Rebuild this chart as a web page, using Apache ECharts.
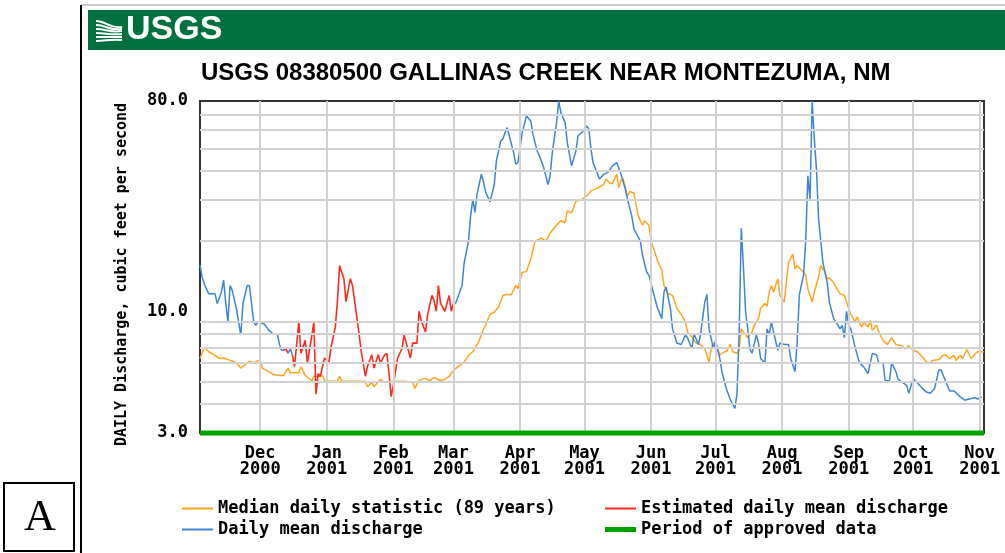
<!DOCTYPE html>
<html>
<head>
<meta charset="utf-8">
<script src="https://cdn.jsdelivr.net/npm/echarts@6/dist/echarts.min.js"></script>
<style>html,body{margin:0;padding:0;background:#fff}#c{width:1005px;height:553px}</style>
</head>
<body>
<div id="c"></div>
<script>
// ---------------- DATA ----------------
const chartTitle = 'USGS 08380500 GALLINAS CREEK NEAR MONTEZUMA, NM';
const yAxisTitle = 'DAILY Discharge, cubic feet per second';
const periodStart = '2000-11-03';
const periodEnd = '2001-11-03';
const monthTicks = ['2000-12-01','2001-01-01','2001-02-01','2001-03-01','2001-04-01','2001-05-01',
                    '2001-06-01','2001-07-01','2001-08-01','2001-09-01','2001-10-01','2001-11-01'];
const monthTickLabels = ['Dec\n2000','Jan\n2001','Feb\n2001','Mar\n2001','Apr\n2001','May\n2001',
                         'Jun\n2001','Jul\n2001','Aug\n2001','Sep\n2001','Oct\n2001','Nov\n2001'];
const yMin = 3, yMax = 80;
const yGridValues = [4,5,6,7,8,9,20,30,40,50,60,70];
const seriesNames = ['Median daily statistic (89 years)','Estimated daily mean discharge','Daily mean discharge','Period of approved data'];

// [days since periodStart, cubic feet per second]
const medianDaily = [[0,6.27],[2,7.0],[4,6.7],[7,6.47],[9,6.27],[11,6.3],[14,6.15],[15,6.1],[17,6.0],[19,5.7],[22,6.0],[23,6.1],[25,6.0],[28,6.2],[29,5.7],[32,5.5],[34,5.35],[37,5.3],[39,5.3],[41,5.7],[42,5.45],[46,5.45],[47,5.77],[49,5.3],[52,5.03],[53,5.25],[56,5.25],[57,5.3],[58,5.03],[61,5.0],[64,5.0],[65,5.25],[66,5.0],[74,5.0],[77,5.0],[78,4.74],[80,4.95],[81,4.74],[84,5.1],[85,5.0],[87,4.95],[90,5.0],[92,5.0],[95,5.0],[99,4.95],[100,4.66],[102,5.05],[105,5.15],[107,5.03],[109,5.2],[112,5.03],[114,5.1],[116,5.25],[118,5.58],[120,5.77],[123,6.06],[125,6.47],[127,6.7],[129,7.2],[130,7.5],[132,8.4],[133,8.7],[135,9.7],[137,9.9],[139,10.4],[141,11.7],[143,11.8],[145,11.8],[147,12.9],[148,12.5],[150,14.7],[152,14.8],[154,16.8],[156,20],[159,20.6],[161,20],[163,21.7],[166,23.4],[168,24.5],[170,24],[171,27],[173,26.5],[175,29.7],[178,30.3],[180,31.2],[182,32.9],[185,33.7],[188,35],[189,37],[191,35.4],[192,35.4],[194,38.8],[195,34],[196,36.5],[197,37],[199,31.2],[200,32.7],[202,32.2],[204,25.7],[206,23.4],[207,24.5],[209,23.4],[210,20],[212,17.6],[213,16.5],[215,15],[216,12.9],[218,11.9],[220,11.7],[222,10.3],[224,9.7],[226,9.0],[227,8.15],[229,7.76],[231,7.3],[233,7.2],[235,6.9],[237,6.06],[238,6.9],[239,7.3],[241,6.9],[242,6.47],[244,6.7],[245,6.7],[247,7.2],[248,6.7],[250,6.6],[251,6.8],[252,8.4],[254,7.9],[255,7.7],[257,8.15],[258,8.7],[260,9.3],[261,10.3],[263,10.8],[264,10.5],[265,12.1],[266,12.9],[267,12.1],[269,13.8],[270,11.7],[272,10.95],[273,13.3],[274,16.2],[276,17.6],[277,15.2],[278,15.7],[280,15],[282,14.3],[283,12.5],[285,10.95],[286,12.1],[288,14.1],[289,15.7],[291,14.7],[292,13.8],[293,13.9],[295,13.3],[296,12.7],[298,11.9],[300,11.7],[302,10.3],[303,9.7],[305,9.0],[306,9.45],[308,8.55],[309,9.0],[311,8.55],[312,9.14],[313,8.28],[315,8.7],[316,8.15],[318,7.5],[320,7.2],[322,7.7],[324,7.2],[327,7.1],[328,6.9],[330,7.1],[332,6.8],[334,6.7],[337,6.27],[338,6.06],[340,6.0],[341,6.15],[344,6.2],[346,6.47],[347,6.5],[349,6.27],[351,6.47],[352,6.15],[354,6.47],[355,6.27],[357,6.85],[359,6.27],[361,6.58],[362,6.7],[365,6.7]];

const dailyMeanPart1 = [[0,15.8],[1,14.0],[2,13.1],[4,11.9],[7,11.9],[8,10.8],[10,12.1],[11,13.6],[12,10.8],[13,9.0],[14,12.9],[15,12.3],[17,10.2],[19,7.9],[20,10.8],[22,12.9],[23,12.9],[25,9.0],[26,8.7],[27,9.0],[30,8.8],[32,8.3],[34,8.0],[36,8.0],[37,7.2],[38,6.8],[39,6.8]];
const dailyMeanPart2 = [[41,6.6],[42,6.9],[43,6.5]];
const dailyMeanPart3 = [[119,10.8],[122,12.9],[123,16.2],[125,20],[126,25.7],[127,30.3],[128,26.6],[129,31.9],[131,38.8],[132,35.8],[133,32.5],[135,29.5],[137,35.0],[138,44.3],[140,53.9],[141,55],[142,58.5],[143,61.5],[144,56.7],[146,48],[147,42.9],[148,43.5],[150,58.5],[152,69],[154,65.7],[155,57.5],[157,48.8],[158,46.5],[160,41.5],[162,35],[163,38.2],[164,48],[166,64.6],[167,80],[168,71.3],[170,64.6],[171,53],[173,42.1],[175,48.8],[176,56.7],[178,58.9],[180,62.5],[181,60.7],[182,50],[183,43.5],[186,37],[188,38.8],[190,39.5],[192,42.1],[194,43.5],[196,38.8],[198,33.5],[199,30.3],[201,25.7],[202,22.6],[205,20],[206,17.4],[208,14.7],[209,14.3],[211,12.1],[213,10.3],[215,9.3],[216,12.1],[217,12.7],[219,10.3],[220,8.4],[222,7.3],[224,7.2],[226,7.9],[227,7.7],[229,6.9],[230,8.0],[232,7.2],[233,7.9],[235,10.95],[236,11.8],[237,8.4],[239,6.9],[240,7.5],[242,6.27],[243,5.5],[245,4.66],[247,4.15],[249,3.83],[250,4.4],[251,8],[252,22.7],[253,15.5],[254,10],[255,8.4],[256,6.9],[257,6.6],[259,7.9],[260,7.3],[261,6.27],[263,6.0],[264,8.4],[265,7.9],[266,9.0],[267,8.15],[269,6.8],[270,7.3],[272,7.2],[274,7.2],[275,6.27],[277,5.5],[278,7.3],[279,11.7],[280,13],[281,14.3],[282,20],[283,38.2],[284,30.3],[285,80],[286,55],[287,40.8],[288,24.9],[289,20],[290,16.2],[292,13.3],[293,10.95],[295,9.3],[296,9.0],[298,8.4],[299,8.7],[300,7.7],[301,10],[302,8.7],[303,8.4],[305,7.0],[307,6.0],[309,5.77],[311,5.4],[313,6.58],[315,6.5],[316,6.0],[318,6.0],[319,5.03],[321,5.03],[322,6.0],[324,5.5],[325,5.1],[327,4.95],[329,4.81],[330,4.44],[332,5.15],[333,5.03],[336,4.7],[338,4.51],[340,4.44],[342,4.66],[344,5.6],[345,5.6],[347,5.03],[349,4.55],[351,4.55],[354,4.29],[356,4.15],[358,4.2],[361,4.25],[362,4.2],[364,4.29]];

const estimatedPart1 = [[39,6.8],[40,6.9],[41,6.6]];
const estimatedPart2 = [[43,6.5],[44,5.8],[46,9.0],[47,6.6],[49,7.5],[50,6.0],[52,7.8],[53,9.0],[54,4.4],[55,5.4],[56,5.25],[58,6.3],[60,6.0],[61,7.0],[63,8.55],[64,11.1],[65,15.7],[66,14.7],[67,13.8],[68,11.0],[70,13.8],[71,12.9],[73,9.45],[75,6.8],[77,5.25],[78,5.8],[80,6.5],[81,5.7],[83,6.5],[84,6.0],[86,6.5],[87,6.6],[88,5.4],[89,4.3],[90,4.8],[92,6.3],[94,6.9],[95,7.9],[98,6.3],[99,7.3],[101,7.3],[102,10.0],[103,9.1],[105,8.15],[106,9.7],[108,11.7],[109,11.1],[110,10.0],[111,12.9],[112,10.8],[114,10.0],[116,11.7],[117,10.0],[118,10.8],[119,10.8]];

// ---------------- BUILD ----------------
const DAY = 86400000;
const T0 = Date.parse(periodStart);
const spanDays = Math.round((Date.parse(periodEnd) - T0) / DAY);
const monthTickDays = monthTicks.map(s => Math.round((Date.parse(s) - T0) / DAY));
const joinParts = (...parts) => {
  let out = [];
  parts.forEach((p, i) => { out = out.concat(p); if (i < parts.length - 1) out.push([p[p.length - 1][0] + 0.5, null]); });
  return out;
};

const monoFont = '"DejaVu Sans Mono", "Liberation Mono", monospace';
const legendText = { fontFamily: monoFont, fontWeight: 'bold', fontSize: 17, color: '#000', lineHeight: 17 };
const legendBase = { orient: 'horizontal', padding: 0, itemWidth: 31, itemHeight: 2, icon: 'rect', selectedMode: false, textStyle: legendText };

const chart = echarts.init(document.getElementById('c'), null, { renderer: 'canvas' });
chart.setOption({
  animation: false,
  backgroundColor: '#fff',
  title: {
    text: chartTitle, left: 201, top: 61, padding: 0,
    textStyle: { fontFamily: '"Liberation Sans", Arial, sans-serif', fontWeight: 'bold', fontSize: 24, color: '#000' }
  },
  graphic: [
    { type: 'line', shape: { x1: 81, y1: 5, x2: 1005, y2: 5 }, style: { stroke: '#999', lineWidth: 1 }, silent: true },
    { type: 'line', shape: { x1: 81, y1: 5, x2: 81, y2: 553 }, style: { stroke: '#000', lineWidth: 2 }, silent: true },
    { type: 'rect', shape: { x: 88, y: 10, width: 917, height: 40 }, style: { fill: '#00703f' }, silent: true },
    { type: 'bezierCurve', shape: { x1: 96, y1: 21, cpx1: 106, cpy1: 21, cpx2: 110, cpy2: 29, x2: 122, y2: 27 }, style: { stroke: '#fff', lineWidth: 2, fill: null }, silent: true },
    { type: 'bezierCurve', shape: { x1: 96, y1: 25, cpx1: 106, cpy1: 25, cpx2: 110, cpy2: 31, x2: 122, y2: 29 }, style: { stroke: '#fff', lineWidth: 2, fill: null }, silent: true },
    { type: 'bezierCurve', shape: { x1: 96, y1: 29, cpx1: 106, cpy1: 29, cpx2: 110, cpy2: 33, x2: 122, y2: 31 }, style: { stroke: '#fff', lineWidth: 2, fill: null }, silent: true },
    { type: 'bezierCurve', shape: { x1: 96, y1: 33, cpx1: 106, cpy1: 33, cpx2: 110, cpy2: 35, x2: 122, y2: 34 }, style: { stroke: '#fff', lineWidth: 2, fill: null }, silent: true },
    { type: 'bezierCurve', shape: { x1: 96, y1: 37, cpx1: 106, cpy1: 37, cpx2: 110, cpy2: 37, x2: 122, y2: 37 }, style: { stroke: '#fff', lineWidth: 2, fill: null }, silent: true },
    { type: 'bezierCurve', shape: { x1: 96, y1: 41, cpx1: 106, cpy1: 41, cpx2: 110, cpy2: 39, x2: 122, y2: 40 }, style: { stroke: '#fff', lineWidth: 2, fill: null }, silent: true },
    { type: 'text', x: 126, y: 30, style: { text: 'USGS', fill: '#fff', font: 'bold 34px "Liberation Sans", Arial, sans-serif', verticalAlign: 'middle', align: 'left' }, silent: true },
    { type: 'rect', shape: { x: 4, y: 483, width: 70, height: 68 }, style: { fill: '#fff', stroke: '#000', lineWidth: 2 }, silent: true },
    { type: 'text', x: 40, y: 518, style: { text: 'A', fill: '#000', font: '44px "Liberation Serif", "DejaVu Serif", serif', verticalAlign: 'middle', align: 'center' }, silent: true }
  ],
  legend: [
    Object.assign({}, legendBase, { left: 182, top: 500, data: [seriesNames[0]] }),
    Object.assign({}, legendBase, { left: 182, top: 521, data: [seriesNames[2]] }),
    Object.assign({}, legendBase, { left: 605, top: 500, data: [seriesNames[1]] }),
    Object.assign({}, legendBase, { left: 605, top: 521, itemHeight: 5, data: [seriesNames[3]] })
  ],
  grid: { left: 200, right: 21, top: 101, bottom: 120, containLabel: false, show: true, borderColor: '#333', borderWidth: 2, backgroundColor: 'transparent' },
  xAxis: {
    type: 'value', min: 0, max: spanDays,
    axisLine: { show: false }, axisTick: { show: false }, splitLine: { show: false },
    axisLabel: {
      customValues: monthTickDays,
      formatter: v => { const i = monthTickDays.indexOf(Math.round(v)); return i >= 0 ? monthTickLabels[i] : ''; },
      fontFamily: monoFont, fontWeight: 'bold', fontSize: 17, lineHeight: 16, color: '#000', margin: 13, hideOverlap: false
    }
  },
  yAxis: {
    type: 'log', logBase: 10, min: yMin, max: yMax,
    name: yAxisTitle, nameLocation: 'middle', nameRotate: 90, nameGap: 70,
    nameTextStyle: { fontFamily: monoFont, fontWeight: 'bold', fontSize: 15, color: '#000', padding: [0, 15, 0, 0] },
    axisLine: { show: false }, axisTick: { show: false }, splitLine: { show: false },
    axisLabel: { formatter: v => (Math.round(v * 10) / 10).toFixed(1), fontFamily: monoFont, fontWeight: 'bold', fontSize: 17, color: '#000', margin: 12, showMinLabel: true, showMaxLabel: true }
  },
  series: [
    { // grid lines holder
      type: 'line', name: '_grid', data: [[0, yMin], [spanDays, yMin]], silent: true, z: 1,
      showSymbol: false, lineStyle: { opacity: 0 },
      markLine: {
        silent: true, symbol: ['none', 'none'], label: { show: false }, animation: false,
        lineStyle: { color: '#d2d2d2', width: 2, type: 'solid' },
        data: yGridValues.map(v => ({ yAxis: v })).concat(monthTickDays.map(d => ({ xAxis: d })))
      }
    },
    { type: 'line', name: seriesNames[0], data: medianDaily, showSymbol: false, z: 3,
      lineStyle: { color: '#ffa51f', width: 1.5 }, itemStyle: { color: '#ffa51f' } },
    { type: 'line', name: seriesNames[1], data: joinParts(estimatedPart1, estimatedPart2), showSymbol: false, z: 4, connectNulls: false,
      lineStyle: { color: '#ff2a1f', width: 1.6 }, itemStyle: { color: '#ff2a1f' } },
    { type: 'line', name: seriesNames[2], data: joinParts(dailyMeanPart1, dailyMeanPart2, dailyMeanPart3), showSymbol: false, z: 4, connectNulls: false,
      lineStyle: { color: '#3f86d2', width: 1.5 }, itemStyle: { color: '#3f86d2' } },
    { type: 'line', name: seriesNames[3], data: [[0, yMin], [spanDays, yMin]], showSymbol: false, z: 6, clip: false,
      lineStyle: { color: '#00a000', width: 5 }, itemStyle: { color: '#00a000' } }
  ]
});
</script>
</body>
</html>
